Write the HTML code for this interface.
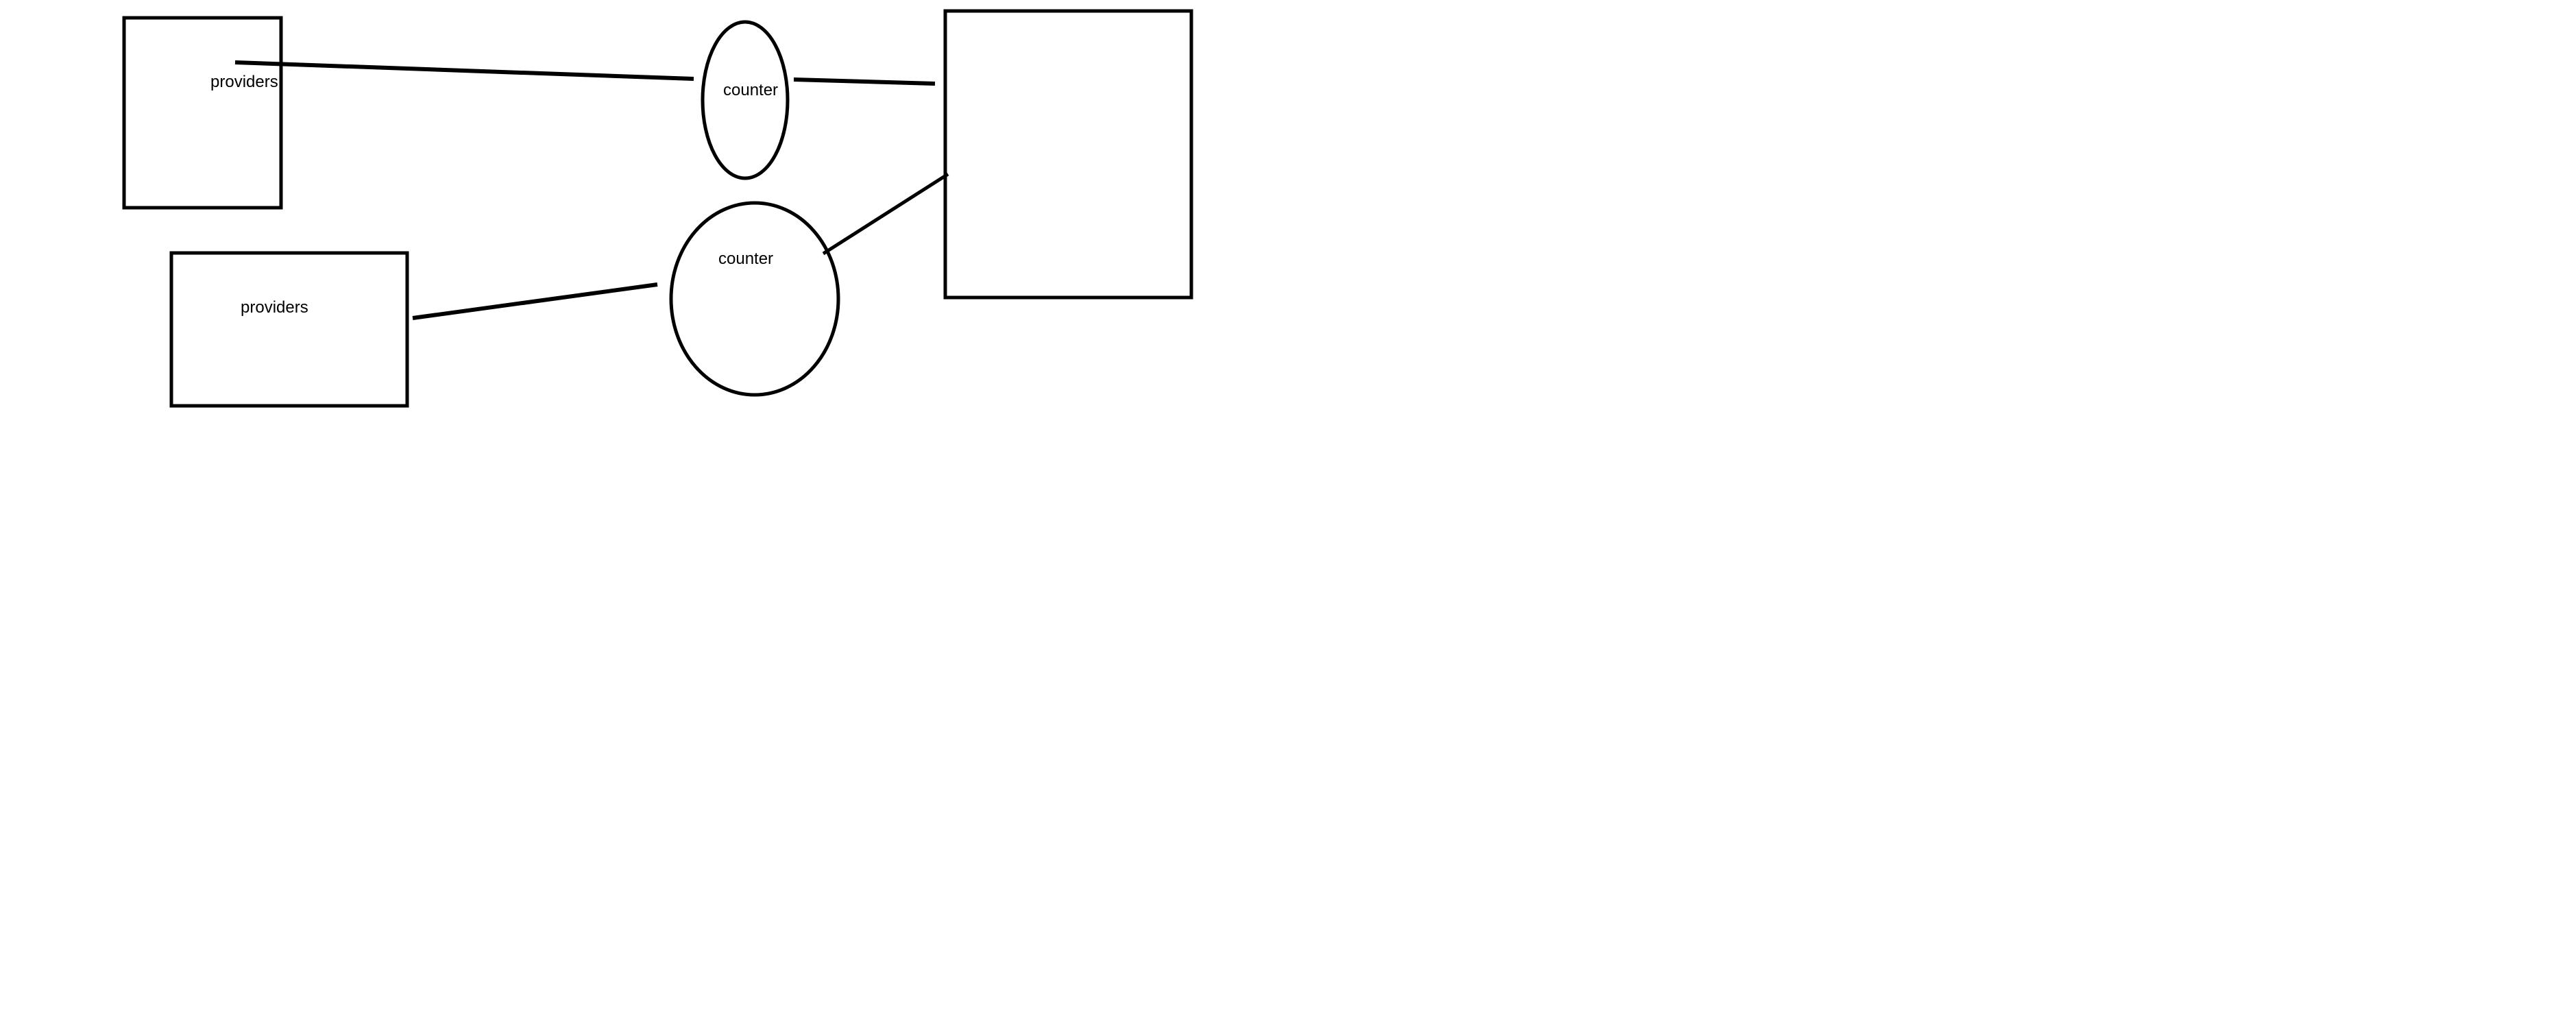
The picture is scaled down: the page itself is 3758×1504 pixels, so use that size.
<!DOCTYPE html>
<html><head><meta charset="utf-8"><style>html,body{margin:0;padding:0;background:#fff}svg{display:block}</style></head>
<body>
<svg width="3758" height="1504" viewBox="0 0 3758 1504" xmlns="http://www.w3.org/2000/svg" font-family="Liberation Sans, sans-serif" font-size="24">
<rect x="181" y="26" width="229" height="277" fill="none" stroke="#000" stroke-width="5"/>
<rect x="250" y="369" width="344" height="223" fill="none" stroke="#000" stroke-width="5"/>
<rect x="1379" y="16" width="359" height="418" fill="none" stroke="#000" stroke-width="5"/>
<ellipse cx="1087" cy="146" rx="62" ry="114" fill="none" stroke="#000" stroke-width="5"/>
<ellipse cx="1101" cy="436" rx="122" ry="140" fill="none" stroke="#000" stroke-width="5"/>
<line x1="343" y1="91" x2="1012" y2="115" stroke="#000" stroke-width="6"/>
<line x1="1158" y1="116" x2="1364" y2="122" stroke="#000" stroke-width="6"/>
<line x1="602" y1="464" x2="959" y2="415" stroke="#000" stroke-width="6"/>
<line x1="1201" y1="370" x2="1383" y2="254" stroke="#000" stroke-width="5"/>
<text x="307" y="127">providers</text>
<text x="351" y="456">providers</text>
<text x="1055" y="139">counter</text>
<text x="1048" y="385">counter</text>
</svg>
</body></html>
